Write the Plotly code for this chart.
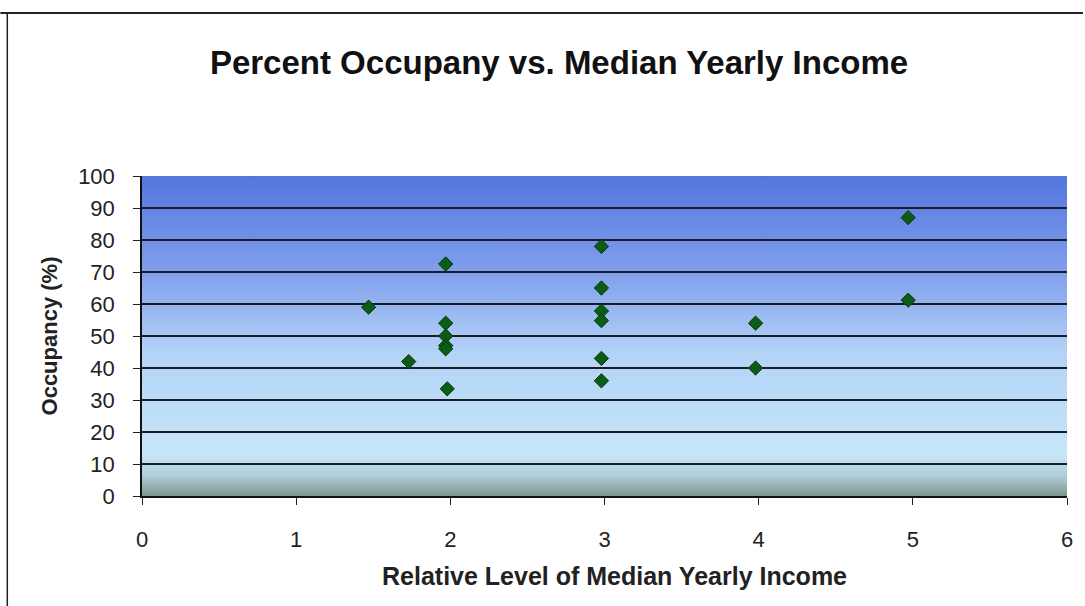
import base64
import plotly.graph_objects as go

# Data
income_level = [1.47, 1.73, 1.97, 1.97, 1.97, 1.97, 1.97, 1.98,
                2.98, 2.98, 2.98, 2.98, 2.98, 2.98, 3.98, 3.98, 4.97, 4.97]
occupancy = [59, 42, 72.5, 54, 50, 47, 46, 33.5,
             78, 65, 57.8, 54.8, 43, 36, 54, 40, 87, 61.2]

x_ticks = [0, 1, 2, 3, 4, 5, 6]
y_ticks = [0, 10, 20, 30, 40, 50, 60, 70, 80, 90, 100]

W, H = 1085, 606
ML, MR, MT, MB = 142, 16, 176, 110
PW, PH = W - ML - MR, H - MT - MB

svg = (
    '<svg xmlns="http://www.w3.org/2000/svg" width="100" height="100" preserveAspectRatio="none">'
    '<defs><linearGradient id="g" x1="0" y1="0" x2="0" y2="1">'
    '<stop offset="0" stop-color="#5476dd"/>'
    '<stop offset="0.30" stop-color="#809fec"/>'
    '<stop offset="0.55" stop-color="#b4d2f6"/>'
    '<stop offset="0.87" stop-color="#c6e6f9"/>'
    '<stop offset="0.94" stop-color="#aecbd6"/>'
    '<stop offset="1" stop-color="#7a978c"/>'
    '</linearGradient></defs>'
    '<rect width="100" height="100" fill="url(#g)"/></svg>'
)
src = "data:image/svg+xml;base64," + base64.b64encode(svg.encode()).decode()

fig = go.Figure()
fig.add_trace(go.Scatter(
    x=income_level, y=occupancy, mode="markers",
    marker=dict(symbol="diamond", size=11, color="#0b5c16",
                line=dict(color="#053a0b", width=1)),
    showlegend=False, hoverinfo="x+y",
))

sans = "Liberation Sans, Arial, sans-serif"

def px_to_paper_x(px):
    return (px - ML) / PW

def px_to_paper_y(py):
    return (H - MB - py) / PH

fig.update_layout(
    width=W, height=H,
    margin=dict(l=ML, r=MR, t=MT, b=MB),
    paper_bgcolor="white",
    plot_bgcolor="rgba(0,0,0,0)",
    title=dict(text="<b>Percent Occupany vs. Median Yearly Income</b>",
               x=559 / W, xanchor="center", y=1 - 62 / H, yanchor="middle",
               font=dict(family=sans, size=33, color="#111")),
    xaxis=dict(range=[0, 6], tickvals=x_ticks, ticks="outside", ticklen=7,
               tickcolor="#222", showgrid=False, zeroline=False,
               showline=True, linecolor="#111", linewidth=1.5,
               ticklabelstandoff=16,
               tickfont=dict(family=sans, size=22, color="#222")),
    yaxis=dict(range=[0, 100], tickvals=y_ticks, ticks="outside", ticklen=7,
               tickcolor="#222", showgrid=True, gridcolor="#1c1c28", gridwidth=1.5,
               zeroline=False, showline=True, linecolor="#111", linewidth=1.5,
               ticklabelstandoff=14,
               tickfont=dict(family=sans, size=22, color="#222"),
               title=dict(text="<b>Occupancy (%)</b>",
                          font=dict(family=sans, size=22, color="#222"),
                          standoff=14)),
    annotations=[dict(text="<b>Relative Level of Median Yearly Income</b>",
                      xref="paper", yref="paper",
                      x=px_to_paper_x(616), y=px_to_paper_y(576),
                      xanchor="center", yanchor="middle", showarrow=False,
                      font=dict(family=sans, size=25, color="#222"))],
    images=[dict(source=src, xref="x domain", yref="y domain", x=0, y=1,
                 sizex=1, sizey=1, xanchor="left", yanchor="top",
                 sizing="stretch", layer="below")],
    shapes=[
        dict(type="line", xref="paper", yref="paper",
             x0=px_to_paper_x(0), x1=px_to_paper_x(W),
             y0=px_to_paper_y(13), y1=px_to_paper_y(13),
             line=dict(color="#222", width=2)),
        dict(type="line", xref="paper", yref="paper",
             x0=px_to_paper_x(7), x1=px_to_paper_x(7),
             y0=px_to_paper_y(13), y1=px_to_paper_y(H),
             line=dict(color="#222", width=1.5)),
    ],
)

fig.write_html("out.html")
